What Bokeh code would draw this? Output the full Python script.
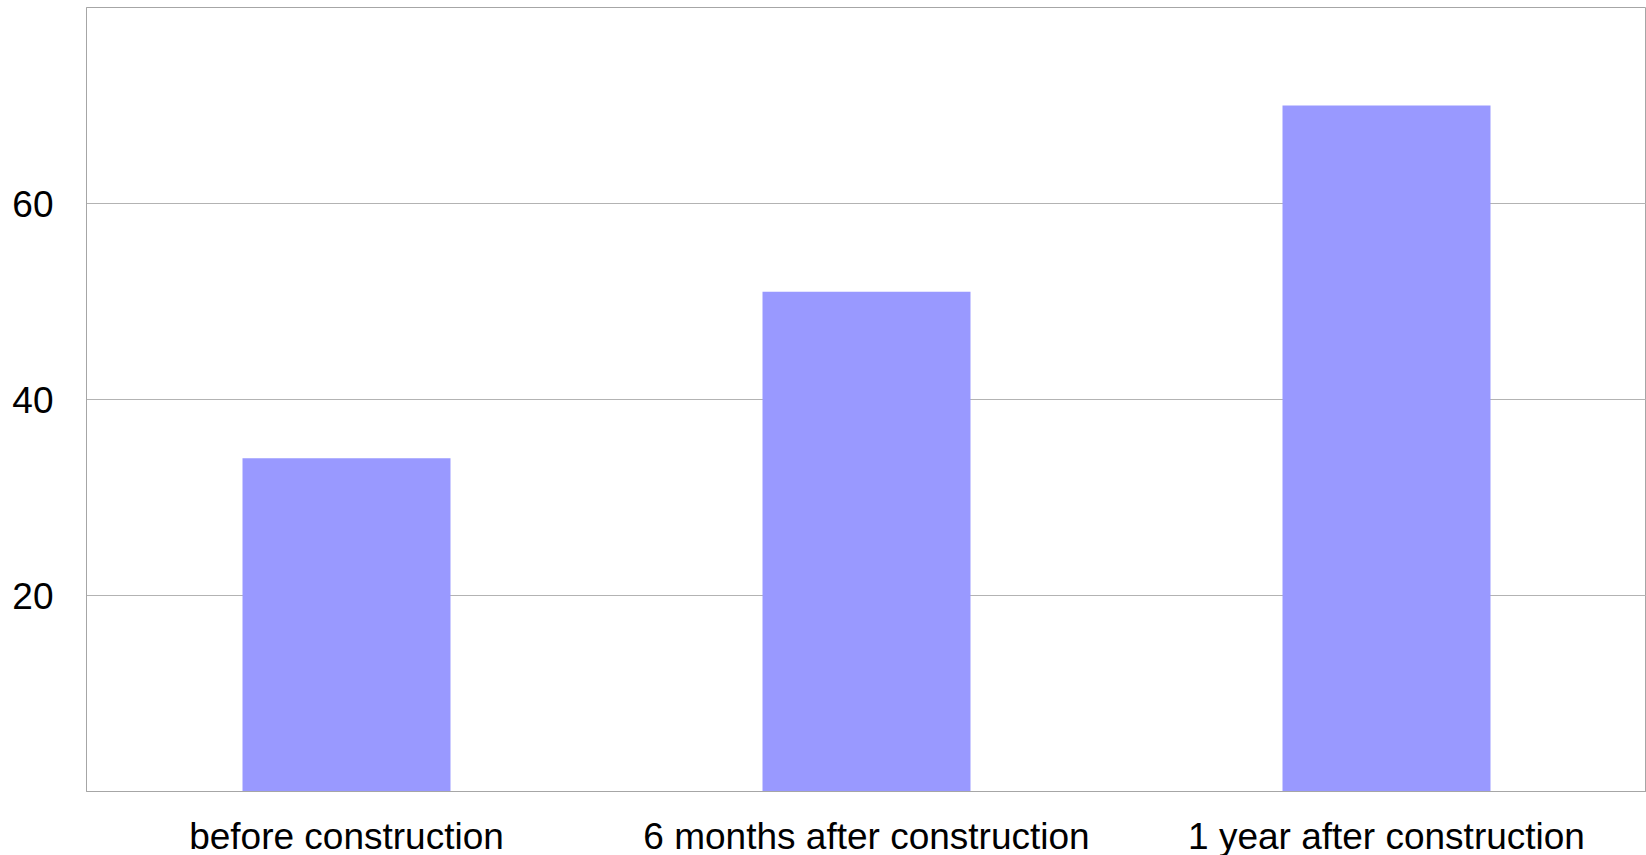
from bokeh.plotting import figure
from bokeh.models import FactorRange, Range1d, FixedTicker, ColumnDataSource
from bokeh.embed import file_html
from bokeh.resources import INLINE

categories = ["before construction", "6 months after construction", "1 year after construction"]
values = [34, 51, 70]
y_ticks = [20, 40, 60]

src = ColumnDataSource(dict(cat=categories, val=values))

p = figure(width=1646, height=859, output_backend="svg", toolbar_location=None,
           x_range=FactorRange(*categories, range_padding=0), y_range=Range1d(0, 80),
           min_border_left=86, min_border_right=0, min_border_top=7, min_border_bottom=68)

p.vbar(x="cat", top="val", width=0.4, source=src, fill_color="#9999ff", line_color=None)

FONT = "Liberation Sans"
p.outline_line_color = "#a6a6a6"
p.outline_line_width = 1
p.background_fill_color = "white"
p.border_fill_color = "white"

p.xgrid.grid_line_color = None
p.ygrid.grid_line_color = "#b3b3b3"
p.ygrid.ticker = FixedTicker(ticks=y_ticks)

p.yaxis.ticker = FixedTicker(ticks=y_ticks)
p.yaxis.axis_line_color = "#a6a6a6"
p.yaxis.major_tick_line_color = None
p.yaxis.minor_tick_line_color = None
p.yaxis.major_tick_out = 0
p.yaxis.major_tick_in = 0
p.yaxis.major_label_standoff = 33
p.yaxis.major_label_text_font = FONT
p.yaxis.major_label_text_font_size = "37px"
p.yaxis.major_label_text_color = "black"

p.xaxis.axis_line_color = "#a6a6a6"
p.xaxis.major_tick_line_color = None
p.xaxis.minor_tick_line_color = None
p.xaxis.major_tick_out = 0
p.xaxis.major_tick_in = 0
p.xaxis.major_label_standoff = 24
p.xaxis.major_label_text_font = FONT
p.xaxis.major_label_text_font_size = "37px"
p.xaxis.major_label_text_color = "black"

html = file_html(p, INLINE)
html = html.replace("<head>", "<head><style>html,body{overflow:hidden;margin:0;}</style>", 1)
open("out.html", "w").write(html)
